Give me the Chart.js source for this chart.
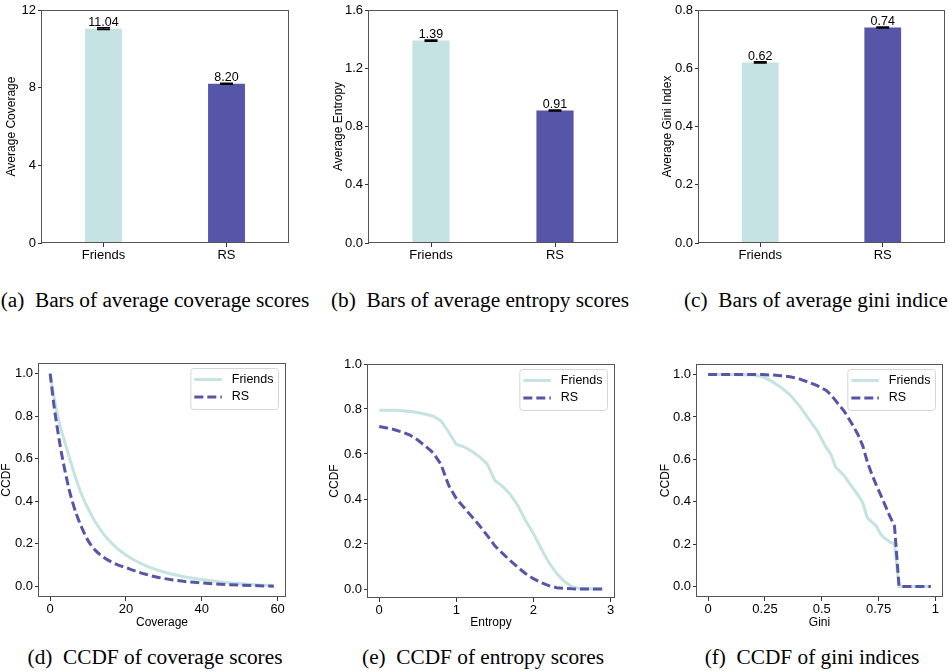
<!DOCTYPE html>
<html>
<head>
<meta charset="utf-8">
<script src="https://cdn.jsdelivr.net/npm/chart.js@4.4.0/dist/chart.umd.min.js"></script>
<style>
  html, body { margin: 0; padding: 0; background: #fff; }
  body { position: relative; width: 948px; height: 671px; overflow: hidden; }
  canvas { position: absolute; }
  .cap { position: absolute; font-family: "Liberation Serif", "Times New Roman", serif; font-size: 21.3px; color: #000; white-space: nowrap; line-height: 24px; }
</style>
</head>
<body>
<canvas id="barCoverage"></canvas>
<canvas id="barEntropy"></canvas>
<canvas id="barGini"></canvas>
<canvas id="ccdfCoverage"></canvas>
<canvas id="ccdfEntropy"></canvas>
<canvas id="ccdfGini"></canvas>
<div class="cap" id="capA">(a)&ensp;Bars of average coverage scores</div>
<div class="cap" id="capB">(b)&ensp;Bars of average entropy scores</div>
<div class="cap" id="capC">(c)&ensp;Bars of average gini indices</div>
<div class="cap" id="capD">(d)&ensp;CCDF of coverage scores</div>
<div class="cap" id="capE">(e)&ensp;CCDF of entropy scores</div>
<div class="cap" id="capF">(f)&ensp;CCDF of gini indices</div>
<script>
// --- datos ---
const groups = ['Friends', 'RS'];
const avgCoverage = [11.04, 8.20];
const avgEntropy = [1.39, 0.91];
const avgGini = [0.62, 0.74];
const errCoverage = [0.04, 0.03];
const errEntropy = [0.004, 0.003];
const errGini = [0.002, 0.002];

const coverageX = [0, 1, 2, 3, 4, 5, 6, 7, 8, 10, 12, 14, 16, 18, 20, 22, 25, 28, 32, 36, 40, 45, 50, 55, 59];
const coverageFriends = [1.0, 0.89, 0.80, 0.73, 0.67, 0.61, 0.55, 0.495, 0.445, 0.365, 0.30, 0.248, 0.207, 0.174, 0.147, 0.125, 0.099, 0.079, 0.058, 0.043, 0.032, 0.021, 0.013, 0.007, 0.004];
const coverageRS = [1.0, 0.85, 0.73, 0.625, 0.535, 0.455, 0.39, 0.335, 0.29, 0.215, 0.168, 0.138, 0.116, 0.100, 0.088, 0.075, 0.058, 0.044, 0.031, 0.022, 0.016, 0.010, 0.006, 0.003, 0.001];

const entropyX = [0, 0.1, 0.2, 0.3, 0.4, 0.5, 0.6, 0.7, 0.8, 0.9, 1.0, 1.1, 1.2, 1.3, 1.4, 1.5, 1.6, 1.7, 1.8, 1.9, 2.0, 2.1, 2.2, 2.3, 2.4, 2.5, 2.6, 2.7, 2.8, 2.9];
const entropyFriends = [0.795, 0.795, 0.794, 0.792, 0.789, 0.784, 0.777, 0.768, 0.748, 0.698, 0.642, 0.632, 0.612, 0.588, 0.556, 0.482, 0.456, 0.420, 0.370, 0.303, 0.247, 0.180, 0.118, 0.070, 0.034, 0.010, 0.002, 0.001, 0, 0];
const entropyRS = [0.722, 0.716, 0.708, 0.697, 0.684, 0.662, 0.635, 0.605, 0.555, 0.462, 0.402, 0.362, 0.322, 0.282, 0.238, 0.192, 0.158, 0.126, 0.096, 0.068, 0.046, 0.028, 0.015, 0.006, 0.003, 0.001, 0, 0, 0, 0];

const giniX = [0, 0.1, 0.2, 0.24, 0.28, 0.32, 0.36, 0.4, 0.44, 0.48, 0.52, 0.54, 0.56, 0.6, 0.64, 0.66, 0.68, 0.7, 0.72, 0.74, 0.76, 0.78, 0.8, 0.82, 0.84, 0.88, 0.92, 0.96, 0.98];
const giniFriends = [1, 1, 0.998, 0.99, 0.968, 0.94, 0.905, 0.855, 0.795, 0.735, 0.655, 0.625, 0.565, 0.52, 0.46, 0.43, 0.395, 0.325, 0.305, 0.285, 0.245, 0.225, 0.21, 0.2, 0, 0, 0, 0, 0];
const giniRS = [1, 1, 1, 1, 0.998, 0.995, 0.99, 0.98, 0.965, 0.948, 0.925, 0.905, 0.878, 0.825, 0.755, 0.715, 0.665, 0.59, 0.53, 0.478, 0.43, 0.38, 0.33, 0.285, 0, 0, 0, 0, 0];

// --- estilo ---
const TEAL = '#c4e3e2';
const PURPLE = '#5655a8';
const FONT = '"Liberation Sans", Arial, sans-serif';

Chart.defaults.font.family = FONT;
Chart.defaults.font.size = 13;
Chart.defaults.color = '#000';
Chart.defaults.animation = false;
Chart.defaults.plugins.legend.display = false;
Chart.defaults.plugins.tooltip.enabled = false;

const gridOpts = { drawOnChartArea: false, drawTicks: true, tickLength: 4, color: '#333', lineWidth: 1 };

// marco completo alrededor del area (como los spines de matplotlib)
const frame = {
    id: 'frame',
    afterDraw(chart) {
        const { ctx, chartArea: a } = chart;
        ctx.save();
        ctx.strokeStyle = '#555';
        ctx.lineWidth = 1;
        ctx.strokeRect(Math.round(a.left) - 0.5, Math.round(a.top) + 0.5,
            Math.round(a.right - a.left) + 1, Math.round(a.bottom - a.top) - 1);
        ctx.restore();
    }
};

// barras de error y etiqueta del valor
const barLabels = {
    id: 'barLabels',
    afterDatasetsDraw(chart) {
        const { ctx } = chart;
        const y = chart.scales.y;
        const ds = chart.data.datasets[0];
        chart.getDatasetMeta(0).data.forEach((bar, i) => {
            const v = ds.data[i], e = ds.errors[i];
            const top = y.getPixelForValue(v + e), bot = y.getPixelForValue(v - e);
            ctx.save();
            ctx.strokeStyle = '#000';
            ctx.lineWidth = 1.5;
            ctx.beginPath();
            ctx.moveTo(bar.x, top); ctx.lineTo(bar.x, bot);
            ctx.moveTo(bar.x - 6.5, top); ctx.lineTo(bar.x + 6.5, top);
            ctx.moveTo(bar.x - 6.5, bot); ctx.lineTo(bar.x + 6.5, bot);
            ctx.stroke();
            ctx.fillStyle = '#000';
            ctx.font = '12.5px ' + FONT;
            ctx.textAlign = 'center';
            ctx.textBaseline = 'alphabetic';
            ctx.fillText(v.toFixed(2), bar.x, top - 2);
            ctx.restore();
        });
    }
};

// leyenda dentro del area, arriba a la derecha
const innerLegend = {
    id: 'innerLegend',
    afterDraw(chart) {
        const { ctx, chartArea: a } = chart;
        const items = chart.data.datasets;
        ctx.save();
        ctx.font = '12.5px ' + FONT;
        const tw = Math.max(...items.map(d => ctx.measureText(d.label).width));
        const w = 41 + tw + 5, h = 41;
        const x = a.right - 6.5 - w, y0 = a.top + 5.5;
        ctx.fillStyle = 'rgba(255,255,255,0.85)';
        ctx.strokeStyle = '#d6d6d6';
        ctx.lineWidth = 1;
        ctx.beginPath();
        ctx.roundRect(x, y0, w, h, 3);
        ctx.fill();
        ctx.stroke();
        items.forEach((d, i) => {
            const cy = y0 + 11 + i * 17.5;
            ctx.strokeStyle = d.borderColor;
            ctx.lineWidth = d.borderWidth;
            ctx.setLineDash(d.borderDash || []);
            ctx.beginPath();
            ctx.moveTo(x + 3.5, cy); ctx.lineTo(x + 31, cy);
            ctx.stroke();
            ctx.setLineDash([]);
            ctx.fillStyle = '#000';
            ctx.textAlign = 'left';
            ctx.textBaseline = 'middle';
            ctx.fillText(d.label, x + 41, cy);
        });
        ctx.restore();
    }
};

// coloca el canvas para que el area del grafico caiga donde toca
const place = (id, area, yW, xH) => {
    const cv = document.getElementById(id);
    const left = area.l - yW, top = area.t - 10;
    cv.style.left = left + 'px';
    cv.style.top = top + 'px';
    cv.width = area.r + 4 - left;
    cv.height = area.b + xH - top;
    return cv;
};

const fixedTicks = (list) => (s) => { s.ticks = list.map(v => ({ value: v })); };

const renderBar = (id, area, yW, values, errors, yTitle, yMax, yTicks, fmt) => {
    const cv = place(id, area, yW, 30);
    new Chart(cv, {
        type: 'bar',
        data: {
            labels: groups,
            datasets: [{
                data: values,
                errors: errors,
                backgroundColor: [TEAL, PURPLE],
                categoryPercentage: 1,
                barPercentage: 0.3
            }]
        },
        options: {
            responsive: false,
            layout: { padding: { top: 10, right: 4, left: 0, bottom: 0 } },
            scales: {
                x: {
                    type: 'category', offset: true,
                    grid: { ...gridOpts, offset: false },
                    border: { display: false },
                    ticks: { padding: 1 },
                    afterFit: s => { s.height = 30; }
                },
                y: {
                    min: 0, max: yMax,
                    afterBuildTicks: fixedTicks(yTicks),
                    grid: gridOpts,
                    border: { display: false },
                    ticks: { padding: 2, callback: v => fmt(v) },
                    title: { display: true, text: yTitle, font: { size: 12 } },
                    afterFit: s => { s.width = yW; }
                }
            }
        },
        plugins: [barLabels, frame]
    });
};

const renderCcdf = (id, area, yW, xH, xs, friends, rs, xTitle, xr, xTicks, xFmt, yr, smooth) => {
    const cv = place(id, area, yW, xH);
    const pts = (ys) => xs.map((x, i) => ({ x, y: ys[i] }));
    const mode = smooth ? 'monotone' : 'default';
    new Chart(cv, {
        type: 'line',
        data: {
            datasets: [
                { label: 'Friends', data: pts(friends), borderColor: TEAL, borderWidth: 3, pointRadius: 0, order: 2, cubicInterpolationMode: mode, tension: 0 },
                { label: 'RS', data: pts(rs), borderColor: PURPLE, borderWidth: 3, borderDash: [9, 4], borderCapStyle: 'butt', pointRadius: 0, order: 1, cubicInterpolationMode: mode, tension: 0 }
            ]
        },
        options: {
            responsive: false,
            layout: { padding: { top: 10, right: 4, left: 0, bottom: 0 } },
            scales: {
                x: {
                    type: 'linear', min: xr[0], max: xr[1],
                    afterBuildTicks: fixedTicks(xTicks),
                    grid: gridOpts,
                    border: { display: false },
                    ticks: { padding: 1, maxRotation: 0, autoSkip: false, callback: v => xFmt(v) },
                    title: { display: true, text: xTitle, font: { size: 12 }, padding: { top: 1, bottom: 4 } },
                    afterFit: s => { s.height = xH; }
                },
                y: {
                    min: yr[0], max: yr[1],
                    afterBuildTicks: fixedTicks([0, 0.2, 0.4, 0.6, 0.8, 1.0]),
                    grid: gridOpts,
                    border: { display: false },
                    ticks: { padding: 2, callback: v => v.toFixed(1) },
                    title: { display: true, text: 'CCDF', font: { size: 12 } },
                    afterFit: s => { s.width = yW; }
                }
            }
        },
        plugins: [innerLegend, frame]
    });
};

renderBar('barCoverage', { l: 42, r: 288, t: 10, b: 243 }, 42, avgCoverage, errCoverage, 'Average Coverage', 12, [0, 4, 8, 12], v => String(v));
renderBar('barEntropy', { l: 369, r: 617, t: 10, b: 243 }, 42, avgEntropy, errEntropy, 'Average Entropy', 1.6, [0, 0.4, 0.8, 1.2, 1.6], v => v.toFixed(1));
renderBar('barGini', { l: 699, r: 944, t: 10, b: 243 }, 43, avgGini, errGini, 'Average Gini Index', 0.8, [0, 0.2, 0.4, 0.6, 0.8], v => v.toFixed(1));

renderCcdf('ccdfCoverage', { l: 39, r: 285, t: 363, b: 597 }, 44, 37, coverageX, coverageFriends, coverageRS, 'Coverage',
    [-2.95, 61.95], [0, 20, 40, 60], v => String(v), [-0.05, 1.05], true);
renderCcdf('ccdfEntropy', { l: 368, r: 614, t: 364, b: 598 }, 45, 36, entropyX, entropyFriends, entropyRS, 'Entropy',
    [-0.145, 3.045], [0, 1, 2, 3], v => String(v), [-0.04, 1.0], false);
renderCcdf('ccdfGini', { l: 697, r: 942, t: 364, b: 597 }, 43, 37, giniX, giniFriends, giniRS, 'Gini',
    [-0.049, 1.029], [0, 0.25, 0.5, 0.75, 1], v => String(v), [-0.05, 1.05], false);

// pies de figura
const caption = (id, cx, cy) => {
    const el = document.getElementById(id);
    el.style.left = cx + 'px';
    el.style.top = cy + 'px';
    el.style.transform = 'translate(-50%,-50%)';
};
caption('capA', 155, 300);
caption('capB', 480, 300);
caption('capC', 820, 300);
caption('capD', 155, 657);
caption('capE', 483, 657);
caption('capF', 812, 657);
</script>
</body>
</html>
